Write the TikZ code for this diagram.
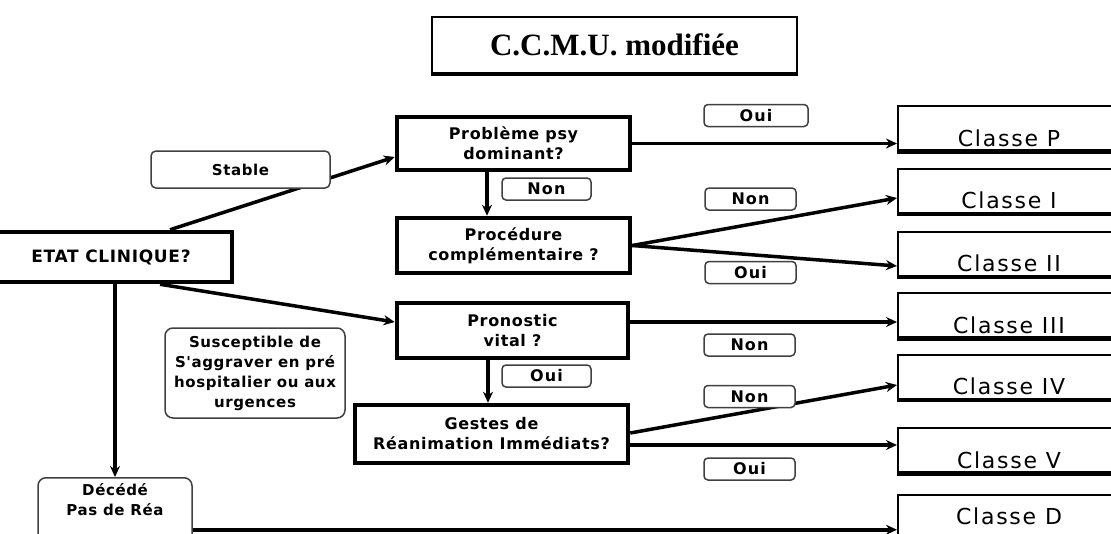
\documentclass[tikz,border=0pt]{standalone}
\usepackage{fontspec}
\setmainfont{DejaVu Sans}
\newfontfamily\boxfont{DejaVu Sans}[LetterSpace=4]
\newfontfamily\labfont{DejaVu Sans}[LetterSpace=7]
\newfontfamily\classfont{DejaVu Sans}[LetterSpace=8]
\newfontfamily\titlefont{Liberation Serif}
\usetikzlibrary{arrows.meta}
\begin{document}
\begin{tikzpicture}[x=1pt,y=-1pt,
  dec/.style={draw, line width=4.5pt, align=center, inner sep=0pt, fill=white,
    font=\boxfont\bfseries\fontsize{16}{20}\selectfont},
  cls/.style={draw, line width=2pt, anchor=west, minimum width=222pt, inner xsep=0pt,
    inner ysep=4pt, text height=36pt, text depth=0pt, fill=white,
    font=\classfont\fontsize{22}{24}\selectfont},
  lab/.style={draw=black!75, line width=1.5pt, rounded corners=4pt, inner sep=0pt, fill=white,
    minimum width=91pt, minimum height=22pt,
    font=\labfont\bfseries\fontsize{16}{16}\selectfont},
  note/.style={draw=black!75, line width=1.5pt, rounded corners=8pt, fill=white, align=center,
    inner sep=0pt, font=\boxfont\bfseries\fontsize{15}{20}\selectfont},
  ttl/.style={draw, line width=2pt, minimum width=365pt, minimum height=56pt, inner sep=0pt,
    font=\titlefont\bfseries\fontsize{31}{32}\selectfont},
  arr/.style={line width=3.5pt, -{Stealth[length=11pt,width=10pt]}}]
\useasboundingbox (0,0) rectangle (1111,533);
\clip (0,0) rectangle (1111,533);
\fill[white] (0,0) rectangle (1111,533);

% title
\node[ttl] (title) at (614.5,45) {C.C.M.U. modifiée};
\draw[line width=1.5pt] ([yshift=-1pt]title.south west) -- ([yshift=-1pt]title.south east);

% decision boxes
\node[dec, minimum width=242pt, minimum height=50pt, font=\boxfont\bfseries\fontsize{17}{20}\selectfont] (etat) at (111,257) {ETAT CLINIQUE?};
\node[dec, minimum width=233pt, minimum height=53pt] (pb) at (513.5,143.5) {Problème psy\\dominant?};
\node[dec, minimum width=233pt, minimum height=55pt] (proc) at (513.5,245.5) {Procédure\\complémentaire ?};
\node[dec, minimum width=231pt, minimum height=55pt] (pron) at (512.5,330.5) {Pronostic\\vital ?};
\node[dec, minimum width=273pt, minimum height=58pt] (gest) at (491.5,434) {Gestes de\\Réanimation Immédiats?};

% class boxes
\node[cls] (cP) at (897,128) {Classe P};
\node[cls] (cI) at (897,190.5) {Classe I};
\node[cls] (cII) at (897,253.5) {Classe II};
\node[cls] (cIII) at (897,315) {Classe III};
\node[cls] (cIV) at (897,376.5) {Classe IV};
\node[cls] (cV) at (897,450) {Classe V};
\node[cls, text height=25pt, text depth=11pt] (cD) at (897,517) {Classe D};
\foreach \c in {cP,cI,cII,cIII,cIV,cV}
  \draw[line width=3pt] ([yshift=-1pt]\c.south west) -- ([yshift=-1pt]\c.south east);

% notes
\node[note, minimum width=180pt, minimum height=90pt] (susc) at (255,373) {Susceptible de\\S'aggraver en pré\\hospitalier ou aux\\urgences};
\node[note, minimum width=154pt, minimum height=80pt, anchor=north] (dec) at (115,477) {};
\node[font=\boxfont\bfseries\fontsize{15}{20}\selectfont, align=center, inner sep=0pt] (dectxt) at (115,500) {Décédé\\Pas de Réa};

% connectors
\draw[arr] ([xshift=59pt]etat.north) -- ([yshift=-13.5pt]pb.west);
\draw[arr] ([xshift=49pt]etat.south) -- ([yshift=8.5pt]pron.west);
\draw[arr] (dec.north |- etat.south) -- (dec.north);
\draw[arr] ([xshift=-26.5pt]pb.south) -- ([xshift=-26.5pt]pb.south |- proc.north);
\draw[arr] ([xshift=-24.5pt]pron.south) -- ([xshift=-24.5pt]pron.south |- gest.north);
\draw[arr] (pb.east) -- (pb.east -| cP.west);
\draw[arr] (proc.east) -- ([yshift=-7.5pt]cI.west);
\draw[arr] (proc.east) -- ([yshift=-12.5pt]cII.west);
\draw[arr] ([yshift=8.5pt]pron.east) -- ([yshift=8.5pt]pron.east -| cIII.west);
\draw[arr] ([yshift=1pt]gest.east) -- ([yshift=-8.5pt]cIV.west);
\draw[arr] ([yshift=-11pt]gest.east) -- ([yshift=-11pt]gest.east -| cV.west);
\draw[arr] ([yshift=-12pt]dec.east) -- ([yshift=-12pt]dec.east -| cD.west);

% stable label drawn over the line
\node[note, rounded corners=5pt, minimum width=179pt, minimum height=37pt] (stab) at (240.5,169.5) {Stable};

% answer labels
\node[lab, minimum width=104pt] (l1) at (756,115.5) {Oui};
\node[lab] (l2) at (750.5,199) {Non};
\node[lab] (l3) at (750.5,272.5) {Oui};
\node[lab] (l4) at (749.5,345) {Non};
\node[lab] (l5) at (749.5,396.5) {Non};
\node[lab] (l6) at (749.5,469) {Oui};
\node[lab, minimum width=89pt] (l7) at (546.5,189) {Non};
\node[lab, minimum width=89pt] (l8) at (546.5,376) {Oui};
\end{tikzpicture}
\end{document}
